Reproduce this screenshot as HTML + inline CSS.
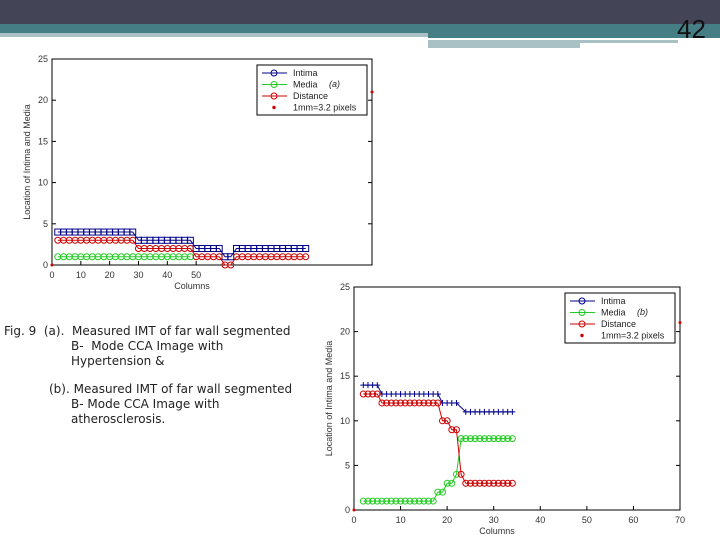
<!DOCTYPE html>
<html><head><meta charset="utf-8"><style>
body{margin:0;width:720px;height:540px;overflow:hidden;background:#fff;font-family:"Liberation Sans",sans-serif;position:relative}
.abs{position:absolute}
.cap{font-family:"DejaVu Sans",sans-serif;font-size:12px;color:#222;line-height:15px;white-space:nowrap}
</style></head><body>
<div class="abs" style="left:0;top:0;width:720px;height:24px;background:#434456"></div>
<div class="abs" style="left:0;top:24px;width:720px;height:9px;background:#457e85"></div>
<div class="abs" style="left:0;top:33px;width:428px;height:4px;background:#a9c1c4"></div>
<div class="abs" style="left:428px;top:33px;width:292px;height:5px;background:#457e85"></div>
<div class="abs" style="left:428px;top:40px;width:250px;height:3px;background:#a9c1c4"></div>
<div class="abs" style="left:428px;top:43px;width:152px;height:5px;background:#a9c1c4"></div>
<div class="abs" style="left:677px;top:14px;font-size:26px;color:#111">42</div>
<div class="abs cap" style="left:4px;top:324px;width:330px">
<div>Fig. 9 &nbsp;(a). &nbsp;Measured IMT of far wall segmented</div>
<div style="padding-left:67px">B- &nbsp;Mode CCA Image with</div>
<div style="padding-left:67px">Hypertension &amp;</div>
<div style="padding-left:45px;margin-top:13px">(b). Measured IMT of far wall segmented</div>
<div style="padding-left:67px">B- Mode CCA Image with</div>
<div style="padding-left:67px">atherosclerosis.</div>
</div>
<svg class="abs" style="left:0;top:0" width="720" height="540" id="svg"></svg>
<script>
// Chart (a) data
const aIntimaX=[2,4,6,8,10,12,14,16,18,20,22,24,26,28,30,32,34,36,38,40,42,44,46,48,50,52,54,56,58,60,62,64,66,68,70,72,74,76,78,80,82,84,86,88];
const aIntimaY=[4,4,4,4,4,4,4,4,4,4,4,4,4,4,3,3,3,3,3,3,3,3,3,3,2,2,2,2,2,1,1,2,2,2,2,2,2,2,2,2,2,2,2,2];
const aMediaX=[2,4,6,8,10,12,14,16,18,20,22,24,26,28,30,32,34,36,38,40,42,44,46,48];
const aMediaY=[1,1,1,1,1,1,1,1,1,1,1,1,1,1,1,1,1,1,1,1,1,1,1,1];
const aDistX=[2,4,6,8,10,12,14,16,18,20,22,24,26,28,30,32,34,36,38,40,42,44,46,48,50,52,54,56,58,60,62,64,66,68,70,72,74,76,78,80,82,84,86,88];
const aDistY=[3,3,3,3,3,3,3,3,3,3,3,3,3,3,2,2,2,2,2,2,2,2,2,2,1,1,1,1,1,0,0,1,1,1,1,1,1,1,1,1,1,1,1,1];
const aXTicks=[0,10,20,30,40,50];
// Chart (b) data
const bIntimaX=[2,3,4,5,6,7,8,9,10,11,12,13,14,15,16,17,18,19,20,21,22,24,25,26,27,28,29,30,31,32,33,34];
const bIntimaY=[14,14,14,14,13,13,13,13,13,13,13,13,13,13,13,13,13,12,12,12,12,11,11,11,11,11,11,11,11,11,11,11];
const bMediaX=[2,3,4,5,6,7,8,9,10,11,12,13,14,15,16,17,18,19,20,21,22,23,24,25,26,27,28,29,30,31,32,33,34];
const bMediaY=[1,1,1,1,1,1,1,1,1,1,1,1,1,1,1,1,2,2,3,3,4,8,8,8,8,8,8,8,8,8,8,8,8];
const bDistX=[2,3,4,5,6,7,8,9,10,11,12,13,14,15,16,17,18,19,20,21,22,23,24,25,26,27,28,29,30,31,32,33,34];
const bDistY=[13,13,13,13,12,12,12,12,12,12,12,12,12,12,12,12,12,10,10,9,9,4,3,3,3,3,3,3,3,3,3,3,3];
const bXTicks=[0,10,20,30,40,50,60,70];
const yTicks=[0,5,10,15,20,25];
const legendLabels=["Intima","Media","Distance","1mm=3.2 pixels"];

const svg=document.getElementById('svg');const NS='http://www.w3.org/2000/svg';
function el(t,a,p){const e=document.createElementNS(NS,t);for(const k in a)e.setAttribute(k,a[k]);(p||svg).appendChild(e);return e;}
function chart(id,L,T,R,B,xmax,xt,series,tag){
  const g=el('g',{});
  
  
  const sx=v=>L+(v/xmax)*(R-L), sy=v=>B-(v/25)*(B-T);
  const f=el('rect',{x:L,y:T,width:R-L,height:B-T,fill:'#fff',stroke:'#000','stroke-width':1},g);
  
  
  xt.forEach(v=>{el('line',{x1:sx(v),x2:sx(v),y1:B,y2:B-4,stroke:'#000'},g);
    const t=el('text',{x:sx(v),y:B+13,'font-size':9,'text-anchor':'middle',fill:'#333'},g);t.textContent=v;
    
    });
  yTicks.forEach(v=>{el('line',{x1:L,x2:L+4,y1:sy(v),y2:sy(v),stroke:'#000'},g);el('line',{x1:R,x2:R-4,y1:sy(v),y2:sy(v),stroke:'#000'},g);
    const t=el('text',{x:L-4,y:sy(v)+3,'font-size':9,'text-anchor':'end',fill:'#333'},g);t.textContent=v;
    
    });
  const xl=el('text',{x:(L+R)/2-20,y:B+24,'font-size':9,'text-anchor':'middle',fill:'#333'},g);xl.textContent='Columns';
  
  
  const yl=el('text',{x:0,y:0,'font-size':9,'text-anchor':'middle',fill:'#333',transform:`translate(${L-22},${(T+B)/2}) rotate(-90)`},g);yl.textContent='Location of Intima and Media';
  
  
  series.forEach(s=>{
    const pts=s.x.map((v,i)=>sx(v)+','+sy(s.y[i])).join(' ');
    const pl=el('polyline',{points:pts,fill:'none',stroke:s.c,'stroke-width':1},g);
    
    
    s.x.forEach((v,i)=>{const X=sx(v),Y=sy(s.y[i]);
      if(s.m==='sq')el('rect',{x:X-3,y:Y-3,width:6,height:6,fill:'none',stroke:s.c},g);
      else if(s.m==='o')el('circle',{cx:X,cy:Y,r:3,fill:'none',stroke:s.c},g);
      else{el('line',{x1:X-3,x2:X+3,y1:Y,y2:Y,stroke:s.c},g);el('line',{x1:X,x2:X,y1:Y-3,y2:Y+3,stroke:s.c},g);}});
  });
  el('circle',{cx:sx(0),cy:sy(0),r:1.5,fill:'#c00'},g);
  el('circle',{cx:R,cy:sy(21),r:1.5,fill:'#c00'},g);
  const lx=R-115,ly=T+6;
  const lg=el('rect',{x:lx,y:ly,width:110,height:50,fill:'#fff',stroke:'#000'},g);
  
  
  const cols=['#00008b','#2c2','#c00','#c00'];
  legendLabels.forEach((s,i)=>{const y=ly+8+i*11.5;
    if(i<3){el('line',{x1:lx+5,x2:lx+30,y1:y,y2:y,stroke:cols[i]},g);}
    el('circle',{cx:lx+17,cy:y,r:i<3?3:1.2,fill:i<3?'none':'#c00',stroke:cols[i]},g);
    const t=el('text',{x:lx+36,y:y+3,'font-size':9,fill:'#222'},g);t.textContent=s;
    
    });
  const tg=el('text',{x:lx+72,y:ly+22,'font-size':9,'font-style':'italic',fill:'#222'},g);tg.textContent=tag;
}
chart('a',52,59,372,265,111,aXTicks,[
  {n:'intima',x:aIntimaX,y:aIntimaY,c:'#00008b',m:'sq'},
  {n:'media',x:aMediaX,y:aMediaY,c:'#2c2',m:'o'},
  {n:'distance',x:aDistX,y:aDistY,c:'#c00',m:'o'}],'(a)');
chart('b',354,287,680,510,70,bXTicks,[
  {n:'intima',x:bIntimaX,y:bIntimaY,c:'#00008b',m:'+'},
  {n:'media',x:bMediaX,y:bMediaY,c:'#2c2',m:'o'},
  {n:'distance',x:bDistX,y:bDistY,c:'#c00',m:'o'}],'(b)');
</script>
</body></html>
